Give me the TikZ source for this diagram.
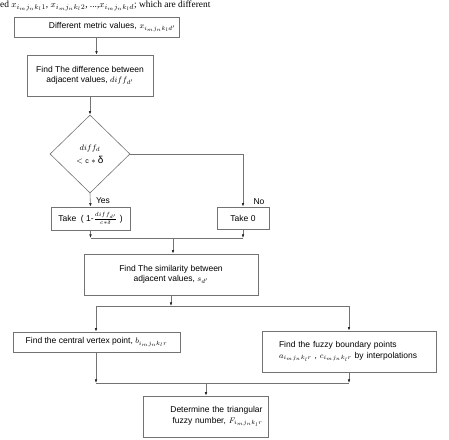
\documentclass[tikz,border=0pt]{standalone}
\usepackage{fontspec}
\setmainfont{Liberation Serif}
\newfontfamily\arial{Liberation Sans}
\usetikzlibrary{arrows.meta,shapes.geometric}
\begin{document}
\begin{tikzpicture}[x=1pt,y=-1pt,
  box/.style={draw=black!55, line width=0.6pt, fill=white, font=\arial\fontsize{8.5}{10.5}\selectfont, inner sep=2pt, align=center},
  conn/.style={draw=black!55, line width=0.6pt},
  arr/.style={conn, -{Latex[length=3.6pt,width=2.6pt,color=black!85]}},
  lbl/.style={font=\arial\fontsize{8.5}{10}\selectfont, inner sep=0pt}]
\useasboundingbox (0,0) rectangle (449,439);
% page text above the chart
\node[anchor=base west, inner sep=0pt, font=\fontsize{9.4}{11}\selectfont] (top) at (0,8)
  {ed $x_{i_m j_n k_l 1}$, $x_{i_m j_n k_l 2}$, ...,$x_{i_m j_n k_l d}$; which are different};
% boxes
\node[box, minimum width=165pt, minimum height=20pt, text width=158pt, align=right] (b1) at (96.5,27)
  {Different metric values, $x_{i_m j_n k_l d'}$};
\node[box, minimum width=126pt, minimum height=41pt] (b2) at (90,75.5)
  {Find The difference between\\ adjacent values, $diff_{d'}$};
\node[diamond, draw=black!55, line width=0.6pt, minimum width=80pt, minimum height=78pt, inner sep=0pt,
  font=\arial\fontsize{8.5}{13}\selectfont, align=center] (d) at (90,154)
  {$diff_{d}$\\ $<$ {\scriptsize c} $*$ {\fontsize{10}{11}\selectfont δ}};
\node[box, minimum width=79pt, minimum height=23pt] (t1) at (90.5,218.5)
  {Take \ ( 1-$\frac{diff_{d'}}{c*\delta}$ )};
\node[box, minimum width=52pt, minimum height=22pt] (t0) at (243,218)
  {Take 0};
\node[box, minimum width=174pt, minimum height=41pt] (b3) at (171,274.5)
  {Find The similarity between\\ adjacent values, $s_{d'}$};
\node[box, minimum width=167pt, minimum height=20pt] (bl) at (96.5,342)
  {Find the central vertex point, $b_{i_m j_n k_l r}$};
\node[box, minimum width=174pt, minimum height=41pt, text width=140pt, align=left] (br) at (349,351.5)
  {Find the fuzzy boundary points\\ $a_{i_m j_n k_l r}$ , $c_{i_m j_n k_l r}$ by interpolations};
\node[box, minimum width=125pt, minimum height=41pt, text width=114pt, align=right] (fin) at (205.5,416.5)
  {Determine the triangular\\ fuzzy number, $F_{i_m j_n k_l r}$};
% labels
\node[lbl] (yes) at (103,201) {Yes};
\node[lbl] (no) at (259,202) {No};
% junction points
\coordinate (j1l) at (90.5,238);
\coordinate (j1r) at (243,238);
\coordinate (j1c) at (173,238);
\coordinate (j2c) at (171,306);
\coordinate (j2l) at (96,306);
\coordinate (j2r) at (349,306);
\coordinate (j3l) at (96,383);
\coordinate (j3r) at (349,383);
\coordinate (j3c) at (206,383);
% connectors
\draw[arr] (b1.south) -- (b1.south |- b2.north);
\draw[arr] (b2.south) -- (d.north);
\draw[arr] (d.east) -| (t0.north);
\draw[arr] (d.south) -- (t1.north);
\draw[arr] (t1.south) -- (j1l);
\draw[arr] (t0.south) -- (j1r);
\draw[conn] (j1l) -- (j1r);
\draw[arr] (j1c) -- (j1c |- b3.north);
\draw[arr] (b3.south) -- (j2c);
\draw[conn] (j2l) -- (j2r);
\draw[arr] (j2l) -- (j2l |- bl.north);
\draw[arr] (j2r) -- (br.north);
\draw[arr] (j3l |- bl.south) -- (j3l);
\draw[arr] (br.south) -- (j3r);
\draw[conn] (j3l) -- (j3r);
\draw[arr] (j3c) -- (j3c |- fin.north);
\end{tikzpicture}
\end{document}
